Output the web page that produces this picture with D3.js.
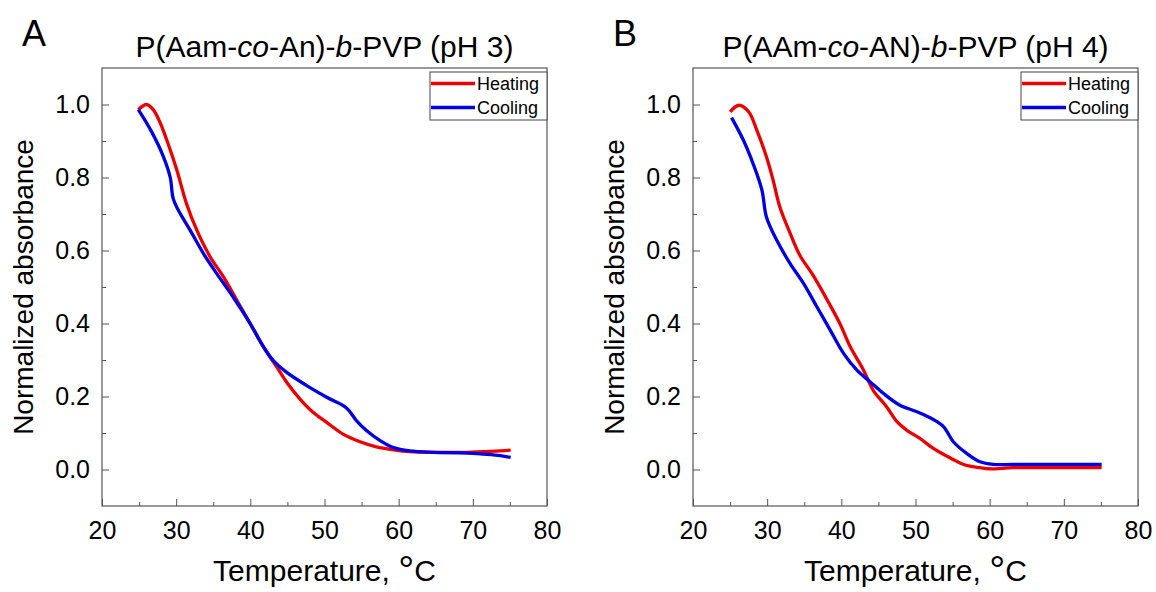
<!DOCTYPE html>
<html>
<head>
<meta charset="utf-8">
<script src="https://cdn.jsdelivr.net/npm/d3@7"></script>
<style>
  body { margin: 0; background: #fff; }
  text { font-family: "Liberation Sans", Arial, sans-serif; fill: #000; }
</style>
</head>
<body>
<div id="chart"></div>
<script>
// tick values
const xTicks = [20, 30, 40, 50, 60, 70, 80];
const xMinor = [25, 35, 45, 55, 65, 75];
const yTicks = [0.0, 0.2, 0.4, 0.6, 0.8, 1.0];
const yMinor = [0.1, 0.3, 0.5, 0.7, 0.9];
const seriesNames = ["Heating", "Cooling"];

// panel A, pH 3: [temperature, normalized absorbance]
const heatingA = [
  [24.9, 0.986], [26.0, 1.0], [26.9, 0.986], [27.8, 0.952], [28.9, 0.893], [30.1, 0.82],
  [31.4, 0.728], [32.8, 0.655], [34.6, 0.582], [36.4, 0.527], [38.2, 0.463], [40.0, 0.399],
  [41.8, 0.335], [43.6, 0.28], [44.9, 0.239], [46.7, 0.193], [48.5, 0.156], [50.3, 0.129],
  [52.5, 0.097], [54.8, 0.076], [57.0, 0.062], [59.3, 0.054], [61.5, 0.049], [64.7, 0.047],
  [69.2, 0.047], [71.4, 0.049], [73.7, 0.051], [75.1, 0.053]
];
const coolingA = [
  [24.9, 0.986], [26.7, 0.925], [28.3, 0.856], [29.2, 0.80], [29.6, 0.742], [30.3, 0.71],
  [31.9, 0.655], [33.7, 0.591], [35.5, 0.536], [37.7, 0.472], [40.0, 0.399], [41.8, 0.335],
  [43.1, 0.298], [44.9, 0.266], [47.6, 0.23], [50.3, 0.198], [53.0, 0.168], [54.3, 0.134],
  [55.7, 0.106], [57.5, 0.079], [59.3, 0.06], [61.5, 0.051], [64.7, 0.047], [69.2, 0.045],
  [71.4, 0.042], [73.7, 0.038], [75.1, 0.033]
];

// panel B, pH 4
const heatingB = [
  [25.0, 0.98], [26.2, 0.998], [27.5, 0.98], [28.6, 0.93], [29.9, 0.857], [30.8, 0.793],
  [31.7, 0.72], [33.1, 0.647], [34.4, 0.587], [36.2, 0.532], [38.0, 0.468], [39.8, 0.40],
  [41.2, 0.336], [43.0, 0.272], [44.3, 0.217], [46.1, 0.172], [47.5, 0.131], [48.8, 0.108],
  [50.6, 0.085], [52.4, 0.058], [54.2, 0.037], [56.0, 0.018], [57.3, 0.009], [58.7, 0.005],
  [60.0, 0.002], [63.2, 0.005], [67.7, 0.005], [75.1, 0.005]
];
const coolingB = [
  [25.2, 0.964], [26.8, 0.902], [28.1, 0.838], [29.3, 0.765], [29.9, 0.692], [31.3, 0.628],
  [33.1, 0.564], [34.9, 0.51], [36.7, 0.446], [38.5, 0.382], [40.3, 0.318], [42.1, 0.272],
  [43.9, 0.24], [45.7, 0.208], [47.9, 0.176], [50.2, 0.158], [52.4, 0.137], [53.8, 0.117],
  [55.1, 0.076], [56.9, 0.044], [58.7, 0.021], [60.5, 0.014], [63.2, 0.014], [75.1, 0.014]
];

const W = 1156, H = 592;
const colors = ["#ee0000", "#0000e6"];

const svg = d3.select("#chart").append("svg")
  .attr("width", W).attr("height", H);

const panels = [
  { letter: "A", left: 102, title: ["P(Aam-", "co", "-An)-", "b", "-PVP (pH 3)"], data: [heatingA, coolingA] },
  { letter: "B", left: 693, title: ["P(AAm-", "co", "-AN)-", "b", "-PVP (pH 4)"], data: [heatingB, coolingB] }
];

const plotTop = 68, plotBottom = 506, pw = 445;

panels.forEach(p => {
  const g = svg.append("g").attr("transform", `translate(${p.left},0)`);
  const x = d3.scaleLinear().domain([20, 80]).range([0, pw]);
  const y = d3.scaleLinear().domain([-0.1, 1.1]).range([plotBottom, plotTop]);

  // curves
  const line = d3.line().x(d => x(d[0])).y(d => y(d[1])).curve(d3.curveCatmullRom);
  p.data.forEach((s, i) => {
    g.append("path").datum(s)
      .attr("d", line)
      .attr("fill", "none")
      .attr("stroke", colors[i])
      .attr("stroke-width", 3.3)
      .attr("stroke-linejoin", "round");
  });

  // x axis (ticks inside)
  g.append("g").attr("transform", `translate(0,${plotBottom})`)
    .call(d3.axisBottom(x).tickValues(xTicks).tickSize(-7).tickPadding(15).tickFormat(d3.format("d")));
  g.append("g").attr("transform", `translate(0,${plotBottom})`)
    .call(d3.axisBottom(x).tickValues(xMinor).tickSize(-4).tickFormat(""));

  // y axis
  g.append("g")
    .call(d3.axisLeft(y).tickValues(yTicks).tickSize(-7).tickPadding(12).tickFormat(d3.format(".1f")));
  g.append("g")
    .call(d3.axisLeft(y).tickValues(yMinor).tickSize(-4).tickFormat(""));

  g.selectAll(".domain").remove();
  g.selectAll(".tick line").attr("stroke", "#555");
  g.selectAll(".tick text").style("font-size", "25px").attr("fill", "#000");

  // frame
  g.append("rect")
    .attr("x", 0).attr("y", plotTop).attr("width", pw).attr("height", plotBottom - plotTop)
    .attr("fill", "none").attr("stroke", "#555").attr("stroke-width", 1.2);

  // title
  const t = g.append("text")
    .attr("x", pw / 2).attr("y", 57)
    .attr("text-anchor", "middle")
    .style("font-size", "30px");
  p.title.forEach((s, i) => {
    t.append("tspan").text(s).style("font-style", i % 2 ? "italic" : "normal");
  });

  // panel letter
  svg.append("text")
    .attr("x", p.left - 80).attr("y", 46)
    .style("font-size", "36px")
    .text(p.letter);

  // axis titles
  const xt = g.append("text")
    .attr("x", pw / 2).attr("y", 581)
    .attr("text-anchor", "middle")
    .style("font-size", "30px");
  xt.append("tspan").text("Temperature, ");
  xt.append("tspan").text("°").style("font-size", "40px").attr("dy", 3);
  xt.append("tspan").text("C").attr("dy", -3);

  g.append("text")
    .attr("transform", `translate(-69,${(plotTop + plotBottom) / 2}) rotate(-90)`)
    .attr("text-anchor", "middle")
    .style("font-size", "28px")
    .text("Normalized absorbance");

  // legend
  const lg = g.append("g").attr("transform", `translate(${pw - 117},${plotTop + 4})`);
  lg.append("rect")
    .attr("width", 117).attr("height", 48)
    .attr("fill", "#fff").attr("stroke", "#444").attr("stroke-width", 1);
  seriesNames.forEach((name, i) => {
    const yy = 11.5 + i * 24;
    lg.append("line")
      .attr("x1", 1).attr("x2", 45).attr("y1", yy).attr("y2", yy)
      .attr("stroke", colors[i]).attr("stroke-width", 3.3);
    lg.append("text")
      .attr("x", 47).attr("y", yy + 6.5)
      .style("font-size", "18px")
      .text(name);
  });
});
</script>
</body>
</html>
